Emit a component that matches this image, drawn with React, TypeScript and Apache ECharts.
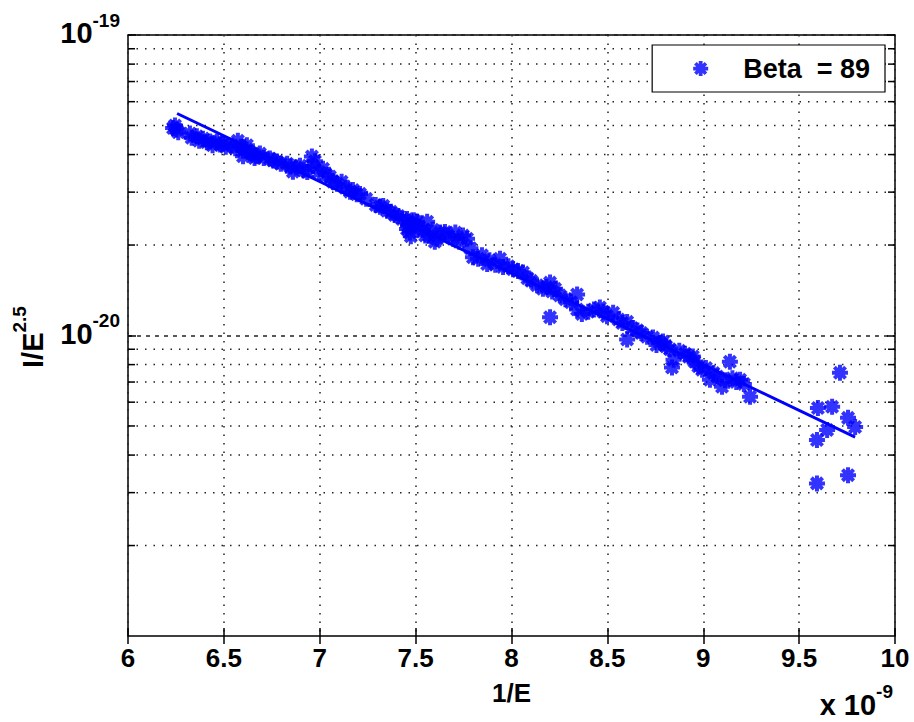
import React, { useEffect, useRef } from "react";
import * as echarts from "echarts";

// ---- data ----
const xMin = 6;
const xMax = 10;
const xStep = 0.5;
const yMin = 1e-21;
const yMax = 1e-19;
const legendLabel = "Beta  = 89";
const xName = "1/E";
const yNameMain = "I/E";
const yNameSup = "2.5";
const xScaleBase = "x 10";
const xScaleExp = "-9";

const minorValues = [
  2e-21, 3e-21, 4e-21, 5e-21, 6e-21, 7e-21, 8e-21, 9e-21,
  2e-20, 3e-20, 4e-20, 5e-20, 6e-20, 7e-20, 8e-20, 9e-20,
];

const fitLine: [number, number][] = [
  [6.256, 5.48e-20],
  [9.792, 4.59e-21],
];

const scatterPoints: [number, number][] = [
  [6.235, 4.9e-20], [6.245, 5.0e-20], [6.253, 4.85e-20], [6.262, 4.75e-20],
  [6.323, 4.7e-20], [6.332, 4.55e-20], [6.359, 4.6e-20], [6.371, 4.45e-20],
  [6.391, 4.52e-20], [6.411, 4.4e-20], [6.428, 4.42e-20], [6.441, 4.3e-20],
  [6.464, 4.42e-20], [6.48, 4.32e-20], [6.495, 4.35e-20], [6.51, 4.25e-20],
  [6.543, 4.29e-20], [6.559, 4.2e-20], [6.573, 4.45e-20], [6.589, 4.25e-20],
  [6.6, 4.12e-20], [6.6, 3.95e-20], [6.619, 4.15e-20], [6.62, 4.3e-20],
  [6.639, 4.05e-20], [6.652, 4.03e-20], [6.66, 3.9e-20],
  [6.668, 3.95e-20], [6.688, 4.03e-20], [6.708, 3.9e-20], [6.74, 3.88e-20],
  [6.757, 3.82e-20], [6.777, 3.79e-20], [6.797, 3.73e-20], [6.83, 3.73e-20],
  [6.846, 3.65e-20], [6.86, 3.51e-20], [6.876, 3.62e-20], [6.897, 3.67e-20],
  [6.916, 3.55e-20], [6.935, 3.5e-20], [6.959, 3.94e-20], [6.965, 3.67e-20],
  [6.975, 3.8e-20], [6.995, 3.5e-20], [7.017, 3.59e-20], [7.034, 3.42e-20],
  [7.053, 3.38e-20], [7.069, 3.25e-20], [7.09, 3.2e-20], [7.114, 3.25e-20],
  [7.133, 3.1e-20], [7.158, 3.01e-20], [7.173, 3.05e-20], [7.193, 2.95e-20],
  [7.21, 2.96e-20],
  [7.242, 2.85e-20], [7.292, 2.72e-20], [7.314, 2.68e-20], [7.331, 2.7e-20],
  [7.351, 2.6e-20], [7.371, 2.58e-20], [7.391, 2.52e-20], [7.41, 2.5e-20],
  [7.43, 2.44e-20], [7.455, 2.44e-20], [7.455, 2.26e-20], [7.46, 2.32e-20],
  [7.47, 2.2e-20], [7.475, 2.14e-20],
  [7.48, 2.35e-20], [7.49, 2.42e-20], [7.507, 2.39e-20], [7.519, 2.3e-20],
  [7.539, 2.25e-20], [7.55, 2.15e-20], [7.56, 2.39e-20], [7.569, 2.15e-20],
  [7.589, 2.25e-20], [7.6, 2.05e-20],
  [7.611, 2.1e-20], [7.628, 2.2e-20], [7.653, 2.21e-20], [7.668, 2.15e-20],
  [7.695, 2.1e-20], [7.707, 2.2e-20], [7.727, 2.05e-20], [7.747, 2.15e-20],
  [7.768, 2.1e-20], [7.786, 1.95e-20], [7.799, 1.82e-20], [7.826, 1.8e-20],
  [7.846, 1.85e-20], [7.873, 1.73e-20], [7.885, 1.78e-20], [7.915, 1.72e-20],
  [7.94, 1.8e-20], [7.956, 1.69e-20],
  [7.984, 1.7e-20], [8.008, 1.66e-20], [8.034, 1.64e-20], [8.06, 1.62e-20],
  [8.083, 1.55e-20], [8.103, 1.52e-20], [8.133, 1.47e-20], [8.164, 1.43e-20],
  [8.182, 1.45e-20], [8.201, 1.5e-20], [8.212, 1.4e-20], [8.227, 1.43e-20],
  [8.201, 1.15e-20], [8.252, 1.36e-20], [8.281, 1.32e-20], [8.311, 1.29e-20],
  [8.342, 1.37e-20], [8.342, 1.22e-20], [8.367, 1.18e-20], [8.4, 1.2e-20],
  [8.43, 1.22e-20], [8.461, 1.24e-20], [8.479, 1.2e-20], [8.498, 1.16e-20],
  [8.53, 1.19e-20], [8.558, 1.13e-20], [8.578, 1.1e-20], [8.603, 1.11e-20],
  [8.603, 9.7e-21], [8.628, 1.06e-20], [8.657, 1.04e-20], [8.677, 1.02e-20],
  [8.707, 9.9e-21], [8.738, 9.85e-21], [8.756, 9.3e-21], [8.774, 9.47e-21],
  [8.79, 9.55e-21], [8.806, 9.2e-21], [8.826, 9.0e-21], [8.837, 7.82e-21],
  [8.845, 8.3e-21], [8.875, 8.9e-21], [8.905, 8.7e-21], [8.925, 8.5e-21],
  [8.946, 8.51e-21], [8.954, 8.2e-21], [8.974, 7.9e-21], [8.994, 7.69e-21],
  [9.014, 7.8e-21], [9.035, 7.13e-21], [9.053, 7.5e-21], [9.073, 7.3e-21],
  [9.098, 6.75e-21], [9.113, 7.1e-21], [9.139, 8.18e-21], [9.152, 7.2e-21],
  [9.172, 7.0e-21], [9.192, 7.13e-21], [9.212, 6.9e-21], [9.244, 6.25e-21],
  [9.593, 4.49e-21], [9.598, 5.74e-21], [9.593, 3.22e-21], [9.646, 4.85e-21],
  [9.672, 5.79e-21], [9.713, 7.52e-21], [9.755, 5.32e-21], [9.792, 4.96e-21],
  [9.755, 3.43e-21],
];

// ---- styles ----
const FONT = "'Liberation Sans', Arial, Helvetica, sans-serif";
const BLUE = "#0000ff";
const STAR =
  "path://M7.5,0L12.5,0L12.5,20L7.5,20Z M0,7.5L20,7.5L20,12.5L0,12.5Z M1.23,4.77L4.77,1.23L18.77,15.23L15.23,18.77Z M15.23,1.23L18.77,4.77L4.77,18.77L1.23,15.23Z";

const bigTok = {
  fontSize: 29,
  fontWeight: "bold",
  fontFamily: FONT,
  color: "#000",
  lineHeight: 37,
  verticalAlign: "bottom",
};
const supTok = {
  fontSize: 19,
  fontWeight: "bold",
  fontFamily: FONT,
  color: "#000",
  lineHeight: 19,
  verticalAlign: "top",
};

export default function App() {
  const ref = useRef<HTMLDivElement>(null);

  useEffect(() => {
    if (!ref.current) return;
    const chart = echarts.init(ref.current, undefined, { renderer: "svg" });

    const gridDots = { color: "#222", width: 1.5, type: [1.5, 7] as number[] };
    const tickStyle = { inside: true, length: 8, lineStyle: { color: "#000", width: 1.5 } };

    const option: any = {
      animation: false,
      backgroundColor: "#fff",
      grid: {
        left: 128,
        right: 19,
        top: 35,
        bottom: 86,
        containLabel: false,
        outerBoundsMode: "none",
        show: true,
        borderColor: "#000",
        borderWidth: 1.5,
        backgroundColor: "#fff",
      },
      legend: {
        data: [legendLabel],
        right: 29,
        top: 45,
        orient: "horizontal",
        borderColor: "#000",
        borderWidth: 1.2,
        backgroundColor: "#fff",
        padding: [10, 15, 10, 41],
        itemWidth: 15,
        itemHeight: 15,
        selectedMode: false,
        formatter: (n: string) => "{sp|}" + n,
        textStyle: {
          fontSize: 27,
          fontWeight: "bold",
          color: "#000",
          fontFamily: FONT,
          rich: { sp: { width: 30 } },
        },
      },
      xAxis: [
        {
          type: "value",
          min: xMin,
          max: xMax,
          interval: xStep,
          position: "bottom",
          axisLine: { show: false },
          axisTick: tickStyle,
          axisLabel: {
            color: "#000",
            fontSize: 26,
            fontWeight: "bold",
            fontFamily: FONT,
            margin: 9,
            formatter: (v: number) => String(v),
          },
          splitLine: { show: true, lineStyle: gridDots },
          name: xName,
          nameLocation: "middle",
          nameGap: 44,
          nameTextStyle: { fontSize: 26, fontWeight: "bold", color: "#000", fontFamily: FONT },
        },
        {
          type: "value",
          min: xMin,
          max: xMax,
          interval: xStep,
          position: "top",
          axisLine: { show: false },
          axisTick: tickStyle,
          axisLabel: { show: false },
          splitLine: { show: false },
        },
      ],
      yAxis: [
        {
          type: "log",
          logBase: 10,
          min: yMin,
          max: yMax,
          position: "left",
          axisLine: { show: false },
          axisTick: tickStyle,
          axisLabel: {
            margin: 8,
            padding: [0, 0, 12, 0],
            formatter: (v: number) => `{b|10}{s|${Math.round(Math.log10(v))}}`,
            rich: { b: bigTok, s: supTok },
          },
          splitLine: { show: true, lineStyle: { color: "#222", width: 1.5, type: [4, 5] } },
        },
        {
          type: "log",
          logBase: 10,
          min: yMin,
          max: yMax,
          position: "right",
          axisLine: { show: false },
          axisTick: tickStyle,
          axisLabel: { show: false },
          splitLine: { show: false },
        },
      ],
      graphic: [
        {
          type: "text",
          right: 21,
          bottom: 3,
          style: {
            text: `{b|${xScaleBase}}{s|${xScaleExp}}`,
            rich: { b: bigTok, s: supTok },
          },
        },
        {
          type: "text",
          x: 28.5,
          y: 337,
          rotation: Math.PI / 2,
          style: {
            text: `{b|${yNameMain}}{s|${yNameSup}}`,
            align: "center",
            verticalAlign: "middle",
            rich: { b: bigTok, s: supTok },
          },
        },
      ],
      series: [
        {
          type: "custom",
          name: "minorGrid",
          xAxisIndex: 0,
          yAxisIndex: 0,
          silent: true,
          z: 1,
          encode: { x: 0, y: 1 },
          data: minorValues.map((v) => [xMin, v]),
          renderItem: (_params: any, api: any) => {
            const v = api.value(1);
            const a = api.coord([xMin, v]);
            const b = api.coord([xMax, v]);
            return {
              type: "group",
              children: [
                {
                  type: "line",
                  shape: { x1: a[0], y1: a[1], x2: b[0], y2: b[1] },
                  style: { stroke: "#222", lineWidth: 1.5, lineDash: [1.5, 7] },
                },
                {
                  type: "line",
                  shape: { x1: a[0], y1: a[1], x2: a[0] + 7, y2: a[1] },
                  style: { stroke: "#000", lineWidth: 1.5 },
                },
                {
                  type: "line",
                  shape: { x1: b[0] - 7, y1: b[1], x2: b[0], y2: b[1] },
                  style: { stroke: "#000", lineWidth: 1.5 },
                },
              ],
            };
          },
        },
        {
          type: "line",
          name: "fit",
          xAxisIndex: 0,
          yAxisIndex: 0,
          data: fitLine,
          showSymbol: false,
          symbol: "none",
          lineStyle: { color: BLUE, width: 3 },
          z: 3,
        },
        {
          type: "scatter",
          name: legendLabel,
          xAxisIndex: 0,
          yAxisIndex: 0,
          data: scatterPoints,
          symbol: STAR,
          symbolSize: 16,
          itemStyle: { color: BLUE },
          z: 4,
        },
      ],
    };

    chart.setOption(option);
    return () => chart.dispose();
  }, []);

  return (
    <div
      ref={ref}
      style={{ position: "absolute", left: 0, top: 0, width: 914, height: 722, background: "#fff" }}
    />
  );
}
